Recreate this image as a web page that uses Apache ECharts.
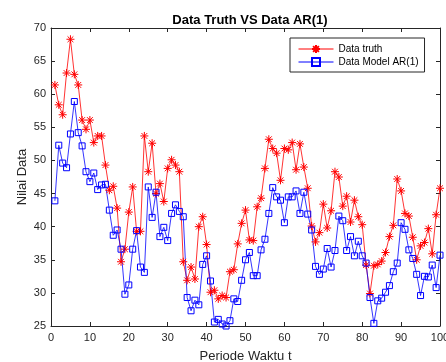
<!DOCTYPE html>
<html><head><meta charset="utf-8">
<script src="https://cdn.jsdelivr.net/npm/echarts@6/dist/echarts.min.js"></script>
<style>html,body{margin:0;padding:0;background:#fff}#c{width:446px;height:362px}</style>
</head><body><div id="c"></div>
<script>
var periods = [];
for (var i = 1; i <= 100; i++) periods.push(i);
var dataTruth = [61.4,58.4,56.9,63.2,68.3,63.0,61.4,56.1,54.7,56.1,52.7,53.7,53.7,49.3,45.5,46.1,42.8,34.7,36.6,42.2,
46.0,39.3,39.3,53.7,48.3,52.6,45.0,46.5,43.8,48.8,50.1,49.3,48.3,34.7,31.9,33.9,32.1,40.0,41.5,37.3,
30.1,30.4,29.1,29.6,29.3,33.2,33.5,37.4,40.5,42.5,38.0,37.9,43.0,44.3,48.8,53.2,51.8,51.1,47.0,51.8,
51.6,52.7,48.6,52.5,49.0,45.8,40.1,37.7,39.1,43.4,39.8,42.4,48.3,47.5,43.1,44.6,40.7,44.0,41.5,40.3,
34.2,29.9,34.1,34.3,34.8,36.1,38.5,40.2,47.2,45.4,42.0,41.6,38.4,35.0,37.1,37.6,39.7,35.9,41.8,45.8];
var dataModel = [43.9,52.3,49.6,48.9,54.0,58.9,54.2,52.2,48.3,46.8,48.1,45.6,46.3,46.4,42.5,38.7,39.5,36.6,29.8,31.2,
36.6,39.4,33.9,33.1,46.0,41.4,45.2,38.5,39.9,37.9,42.0,43.3,42.3,41.5,29.3,27.3,28.9,28.2,34.3,35.6,
31.8,25.6,26.0,25.3,25.0,25.8,29.1,28.7,31.9,35.0,36.1,32.6,32.6,36.5,38.1,42.0,45.9,44.5,44.0,40.6,
44.5,44.5,45.4,42.0,45.2,41.9,39.5,34.0,32.8,33.6,36.7,33.9,36.4,41.6,40.9,36.4,38.5,35.6,37.8,35.6,
34.5,29.3,25.4,28.8,29.2,30.1,31.1,33.2,34.5,40.6,39.6,36.5,35.2,32.8,29.6,32.5,32.4,34.2,30.8,35.7];
var xTicks = {min: 0, max: 100, interval: 10};
var yTicks = {min: 25, max: 70, interval: 5};

function pairs(vals) { return periods.map(function (p, i) { return [p, vals[i]]; }); }
var axisCol = '#262626';
var font = 'Liberation Sans, Arial, sans-serif';
var star = 'path://M0,-5L0,5M-5,0L5,0M-3.6,-3.6L3.6,3.6M-3.6,3.6L3.6,-3.6';
var chart = echarts.init(document.getElementById('c'), null, {renderer: 'canvas'});
var baseAxis = {
  axisLine: {show: true, onZero: false, lineStyle: {color: axisCol, width: 1}},
  axisTick: {show: true, inside: true, length: 4, lineStyle: {color: axisCol}},
  splitLine: {show: false},
  axisLabel: {color: axisCol, fontSize: 11, fontFamily: font}
};
chart.setOption({
  animation: false,
  backgroundColor: '#fff',
  title: {text: 'Data Truth VS Data AR(1)', left: 245, top: 9, textAlign: 'center',
    textStyle: {fontSize: 13, fontWeight: 'bold', color: '#000', fontFamily: font}},
  grid: {left: 51, right: 6, top: 28, bottom: 36, containLabel: false, outerBoundsMode: 'none'},
  legend: {
    orient: 'vertical', left: 290, top: 38, padding: [6, 6, 5, 8],
    itemWidth: 35, itemHeight: 10, itemGap: 3,
    borderColor: axisCol, borderWidth: 1, backgroundColor: '#fff',
    lineStyle: {width: 1},
    textStyle: {fontSize: 10, color: '#000', fontFamily: font},
    data: ['Data truth', 'Data Model AR(1)']
  },
  xAxis: [
    Object.assign({}, baseAxis, {type: 'value', min: xTicks.min, max: xTicks.max, interval: xTicks.interval,
      name: 'Periode Waktu t', nameLocation: 'middle', nameGap: 24, nameMoveOverlap: false,
      nameTextStyle: {fontSize: 13, color: axisCol, fontFamily: font},
      axisLabel: Object.assign({}, baseAxis.axisLabel, {margin: 6})}),
    Object.assign({}, baseAxis, {type: 'value', position: 'top', min: xTicks.min, max: xTicks.max, interval: xTicks.interval,
      axisLabel: {show: false}})
  ],
  yAxis: [
    Object.assign({}, baseAxis, {type: 'value', min: yTicks.min, max: yTicks.max, interval: yTicks.interval,
      name: 'Nilai Data', nameLocation: 'middle', nameGap: 22, nameMoveOverlap: false,
      nameTextStyle: {fontSize: 13, color: axisCol, fontFamily: font},
      axisLabel: Object.assign({}, baseAxis.axisLabel, {margin: 5})}),
    Object.assign({}, baseAxis, {type: 'value', position: 'right', min: yTicks.min, max: yTicks.max, interval: yTicks.interval,
      axisLabel: {show: false}})
  ],
  series: [
    {name: 'Data truth', type: 'line', data: pairs(dataTruth), showAllSymbol: true,
      symbol: star, symbolSize: 8, symbolKeepAspect: true,
      lineStyle: {color: '#ff0000', width: 0.8},
      itemStyle: {color: '#ff0000', borderColor: '#ff0000', borderWidth: 1}},
    {name: 'Data Model AR(1)', type: 'line', data: pairs(dataModel), showAllSymbol: true,
      symbol: 'rect', symbolSize: 6,
      lineStyle: {color: '#0000ff', width: 0.8},
      itemStyle: {color: 'rgba(255,255,255,0)', borderColor: '#0000ff', borderWidth: 1}}
  ]
});
</script></body></html>
